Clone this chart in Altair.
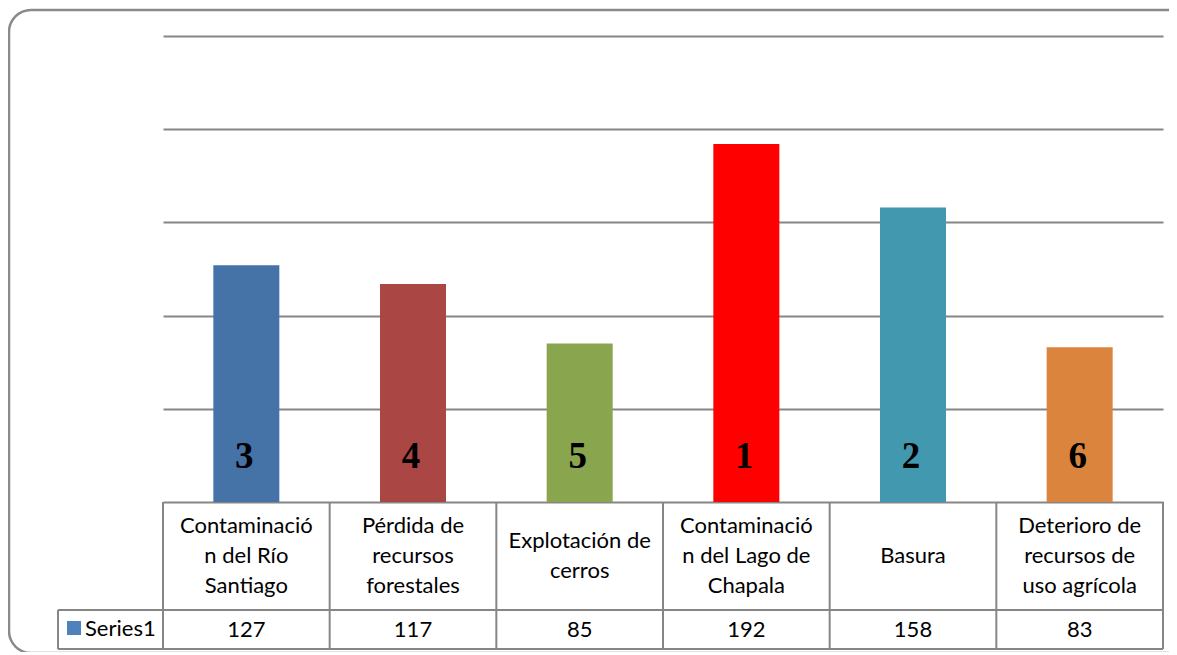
import altair as alt
import pandas as pd

# ---- data ----
categories = [
    "Contaminación del Río Santiago",
    "Pérdida de recursos forestales",
    "Explotación de cerros",
    "Contaminación del Lago de Chapala",
    "Basura",
    "Deterioro de recursos de uso agrícola",
]
category_lines = [
    ["Contaminació", "n del Río", "Santiago"],
    ["Pérdida de", "recursos", "forestales"],
    ["Explotación de", "cerros"],
    ["Contaminació", "n del Lago de", "Chapala"],
    ["Basura"],
    ["Deterioro de", "recursos de", "uso agrícola"],
]
values = [127, 117, 85, 192, 158, 83]
ranks = ["3", "4", "5", "1", "2", "6"]
series_name = "Series1"
gridline_values = [0, 50, 100, 150, 200, 250]

# ---- styles ----
bar_colors = ["#4572A7", "#AA4643", "#89A54E", "#FF0000", "#4198AF", "#DB843D"]
legend_color = "#4F81BD"
line_color = "#868686"
font = "Lato"
FS = 22

W, H = 1000, 466
ROW1_BOTTOM, ROW2_BOTTOM = 574, 613
LEFT_CELL = -105
ROW1_CENTER, LINE_H = 520, 30

df = pd.DataFrame({
    "cat": categories,
    "value": values,
    "rank": ranks,
    "label": ["\n".join(l) for l in category_lines],
    "nlines": [len(l) for l in category_lines],
})
one = pd.DataFrame({"a": [0]})

xscale = alt.Scale(domain=categories, paddingInner=0, paddingOuter=0)
yscale = alt.Scale(domain=[0, 250], nice=False, zero=True)
X = alt.X("cat:N", sort=categories, scale=xscale, axis=None)

bars = alt.Chart(df).mark_bar(width=66).encode(
    x=X,
    y=alt.Y("value:Q", scale=yscale,
            axis=alt.Axis(values=gridline_values, grid=True, labels=False,
                          ticks=False, domain=False, title=None,
                          gridColor=line_color, gridWidth=2)),
    color=alt.Color("cat:N", scale=alt.Scale(domain=categories, range=bar_colors), legend=None),
)

rank_text = alt.Chart(df).mark_text(
    font="Liberation Serif", fontWeight="bold", fontSize=37, baseline="middle",
    color="black", dx=-2,
).encode(x=X, y=alt.datum(24), text="rank:N")

cat_text = alt.Chart(df).transform_calculate(
    ty=f"{ROW1_CENTER} - {LINE_H / 2} * (datum.nlines - 1)"
).mark_text(
    font=font, fontSize=FS, lineBreak="\n", lineHeight=LINE_H, baseline="middle", color="black",
).encode(x=X, y=alt.Y("ty:Q", scale=None), text="label:N")

val_text = alt.Chart(df).mark_text(
    font=font, fontSize=FS, baseline="middle", color="black",
).encode(x=X, y=alt.value(594), text="value:Q")

vlines = alt.Chart(df).mark_rule(color=line_color, strokeWidth=2).encode(
    x=alt.X("cat:N", sort=categories, scale=xscale, axis=None, bandPosition=0),
    y=alt.value(H), y2=alt.value(ROW2_BOTTOM),
)
vline_last = alt.Chart(df).transform_filter(
    alt.datum.cat == categories[-1]
).mark_rule(color=line_color, strokeWidth=2).encode(
    x=alt.X("cat:N", sort=categories, scale=xscale, axis=None, bandPosition=1),
    y=alt.value(H), y2=alt.value(ROW2_BOTTOM),
)

hline1 = alt.Chart(one).mark_rule(color=line_color, strokeWidth=2).encode(
    x=alt.value(LEFT_CELL), x2=alt.value(W), y=alt.value(ROW1_BOTTOM))
hline2 = alt.Chart(one).mark_rule(color=line_color, strokeWidth=2).encode(
    x=alt.value(LEFT_CELL), x2=alt.value(W), y=alt.value(ROW2_BOTTOM))
vleft = alt.Chart(one).mark_rule(color=line_color, strokeWidth=2).encode(
    x=alt.value(LEFT_CELL), y=alt.value(ROW1_BOTTOM), y2=alt.value(ROW2_BOTTOM))

legend_sq = alt.Chart(one).mark_rect(color=legend_color).encode(
    x=alt.value(-96), x2=alt.value(-82), y=alt.value(585), y2=alt.value(599))
series_text = alt.Chart(one).mark_text(
    font=font, fontSize=FS, align="left", baseline="middle", color="black",
).encode(x=alt.value(-78), y=alt.value(593), text=alt.value(series_name))

border = alt.Chart(one).mark_rect(
    fillOpacity=0, stroke="#8a8a8a", strokeWidth=2.5, cornerRadius=22,
).encode(x=alt.value(-154), x2=alt.value(1030), y=alt.value(-26), y2=alt.value(617))

chart = alt.layer(
    border, bars, rank_text, vlines, vline_last, hline1, hline2, vleft,
    cat_text, val_text, legend_sq, series_text,
).properties(
    width=W, height=H,
    padding={"left": 155, "top": 28, "right": 6, "bottom": 150},
    autosize=alt.AutoSizeParams(type="none"),
    background="white",
).configure_view(stroke=None)

chart.save("out.html", embed_options={"renderer": "svg", "actions": False})
